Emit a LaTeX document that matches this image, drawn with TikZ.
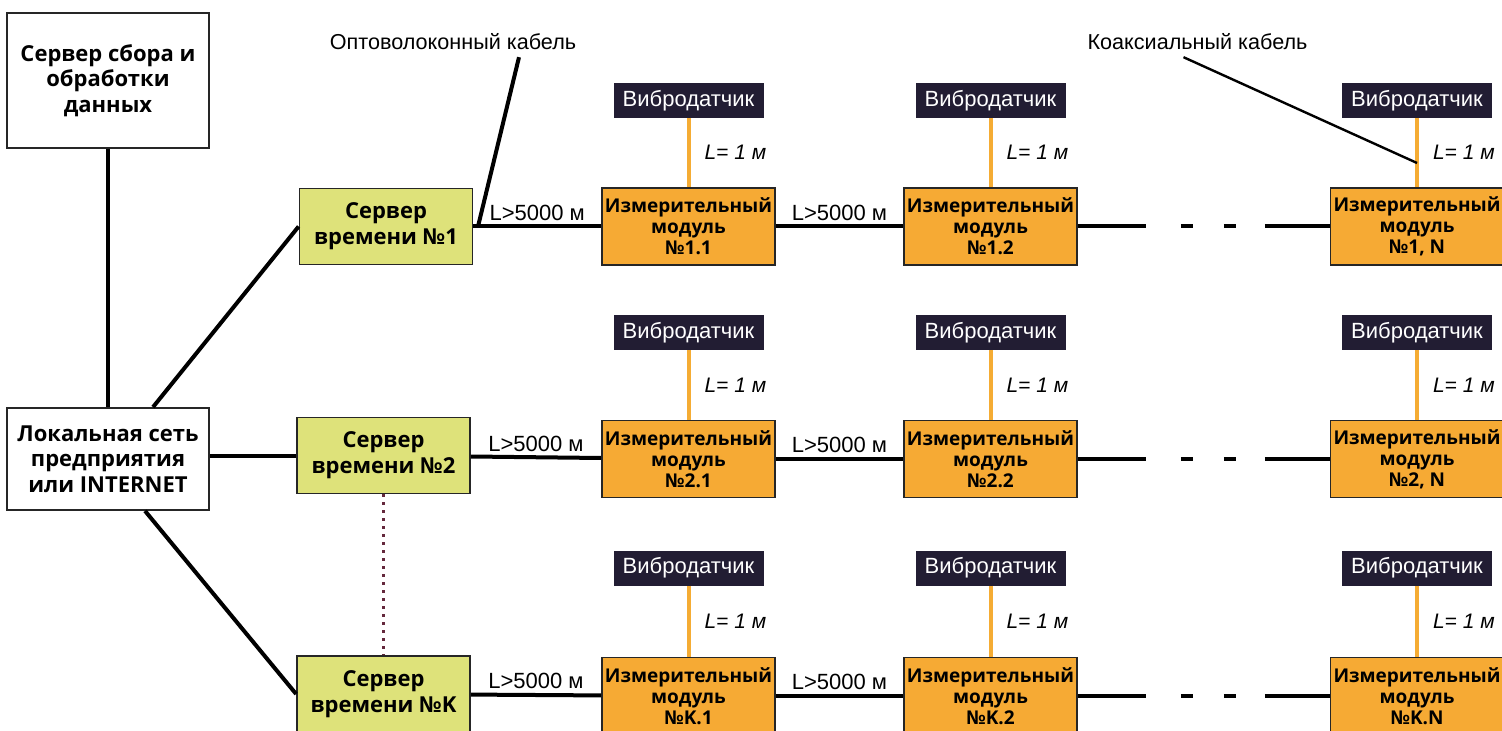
\documentclass[tikz,border=0pt]{standalone}
\usepackage{fontspec}
\setmainfont{Liberation Sans}
\newfontfamily\boxfont{Open Sans}
\definecolor{modfill}{RGB}{246,170,52}
\definecolor{tsfill}{RGB}{222,226,122}
\definecolor{vibfill}{RGB}{34,29,51}
\definecolor{cablecol}{RGB}{245,172,52}
\definecolor{dotcol}{RGB}{100,40,60}
\begin{document}
\begin{tikzpicture}[x=0.5pt,y=-0.5pt,
    box/.style={draw=black!85,line width=0.9pt,inner sep=0pt,align=center},
    bigbox/.style={box,fill=white,minimum width=101pt,font=\boxfont\bfseries\fontsize{11}{12.7}\selectfont},
    timebox/.style={box,fill=tsfill,minimum width=86.5pt,minimum height=38pt,font=\boxfont\bfseries\fontsize{11}{13}\selectfont},
    modbox/.style={box,fill=modfill,minimum width=86.5pt,minimum height=38.5pt,font=\boxfont\bfseries\fontsize{9.5}{10.5}\selectfont},
    vibbox/.style={fill=vibfill,text=white,inner sep=0pt,minimum width=75pt,minimum height=17.5pt,font=\fontsize{11}{13}\selectfont},
    wire/.style={line width=2pt},
    cable/.style={draw=cablecol,line width=2pt},
    lenlbl/.style={font=\itshape\fontsize{10.5}{12}\selectfont,right,inner sep=7pt},
    distlbl/.style={font=\fontsize{11}{13}\selectfont,above,inner sep=2pt},
    cablelbl/.style={font=\fontsize{10.8}{13}\selectfont}]
    \useasboundingbox (0,0) rectangle (1502,731);
    \node[bigbox,minimum height=67.5pt] (srv) at (108,80.5) {Сервер сбора и\\обработки\\данных};
    \node[bigbox,minimum height=51pt] (lan) at (108,459) {Локальная сеть\\предприятия\\или INTERNET};
    \node[timebox] (ts1) at (386,226.5) {Сервер\\времени №1};
    \node[timebox] (ts2) at (383.5,455.5) {Сервер\\времени №2};
    \node[timebox] (tsk) at (383.5,694) {Сервер\\времени №K};
    \draw[wire] (srv) -- (lan);
    \draw[wire] ([xshift=22.5pt]lan.north) -- (ts1.west);
    \draw[wire] (ts2.west -| lan.east) -- (ts2.west);
    \draw[wire] ([xshift=18.5pt]lan.south) -- (tsk.west);
    \draw[dotcol,line width=1.4pt,dash pattern=on 1.4pt off 2.6pt] (ts2) -- (tsk);

    \node[vibbox] (v11) at (688.5,100.5) {Вибродатчик};
    \node[vibbox] (v12) at (990.5,100.5) {Вибродатчик};
    \node[vibbox] (v1n) at (1417,100.5) {Вибродатчик};
    \node[modbox] (m11) at (688.5,226.5) {Измерительный\\модуль\\№1.1};
    \node[modbox] (m12) at (990.5,226.5) {Измерительный\\модуль\\№1.2};
    \node[modbox] (m1n) at (1417,226.5) {Измерительный\\модуль\\№1, N};
    \draw[cable] (v11) -- node[lenlbl] {L= 1 м} (m11);
    \draw[cable] (v12) -- node[lenlbl] {L= 1 м} (m12);
    \draw[cable] (v1n) -- node[lenlbl] {L= 1 м} (m1n);
    \draw[wire] (ts1) -- node[distlbl] {L>5000 м} (m11);
    \draw[wire] (m11) -- node[distlbl] {L>5000 м} (m12);
    \draw[wire,dash pattern=on 34pt off 17.5pt on 6pt off 15.5pt on 6pt off 14.5pt on 40pt] (m12) -- (m1n);

    \node[vibbox] (v21) at (688.5,332.5) {Вибродатчик};
    \node[vibbox] (v22) at (990.5,332.5) {Вибродатчик};
    \node[vibbox] (v2n) at (1417,332.5) {Вибродатчик};
    \node[modbox] (m21) at (688.5,459) {Измерительный\\модуль\\№2.1};
    \node[modbox] (m22) at (990.5,459) {Измерительный\\модуль\\№2.2};
    \node[modbox] (m2n) at (1417,459) {Измерительный\\модуль\\№2, N};
    \draw[cable] (v21) -- node[lenlbl] {L= 1 м} (m21);
    \draw[cable] (v22) -- node[lenlbl] {L= 1 м} (m22);
    \draw[cable] (v2n) -- node[lenlbl] {L= 1 м} (m2n);
    \draw[wire] (ts2) -- node[distlbl] {L>5000 м} (m21);
    \draw[wire] (m21) -- node[distlbl] {L>5000 м} (m22);
    \draw[wire,dash pattern=on 34pt off 17.5pt on 6pt off 15.5pt on 6pt off 14.5pt on 40pt] (m22) -- (m2n);

    \node[vibbox] (vk1) at (688.5,568) {Вибродатчик};
    \node[vibbox] (vk2) at (990.5,568) {Вибродатчик};
    \node[vibbox] (vkn) at (1417,568) {Вибродатчик};
    \node[modbox] (mk1) at (688.5,696) {Измерительный\\модуль\\№K.1};
    \node[modbox] (mk2) at (990.5,696) {Измерительный\\модуль\\№K.2};
    \node[modbox] (mkn) at (1417,696) {Измерительный\\модуль\\№K.N};
    \draw[cable] (vk1) -- node[lenlbl] {L= 1 м} (mk1);
    \draw[cable] (vk2) -- node[lenlbl] {L= 1 м} (mk2);
    \draw[cable] (vkn) -- node[lenlbl] {L= 1 м} (mkn);
    \draw[wire] (tsk) -- node[distlbl] {L>5000 м} (mk1);
    \draw[wire] (mk1) -- node[distlbl] {L>5000 м} (mk2);
    \draw[wire,dash pattern=on 34pt off 17.5pt on 6pt off 15.5pt on 6pt off 14.5pt on 40pt] (mk2) -- (mkn);

    \node[cablelbl] (fiber) at (453,42) {Оптоволоконный кабель};
    \coordinate (fibertip) at (478,226.5);
    \draw[wire] ([xshift=33pt]fiber.south) -- (fibertip);
    \node[cablelbl] (coax) at (1197.5,42) {Коаксиальный кабель};
    \coordinate (coaxtip) at (1417,163);
    \draw[line width=1.2pt] ([xshift=-7pt]coax.south) -- (coaxtip);
\end{tikzpicture}
\end{document}
